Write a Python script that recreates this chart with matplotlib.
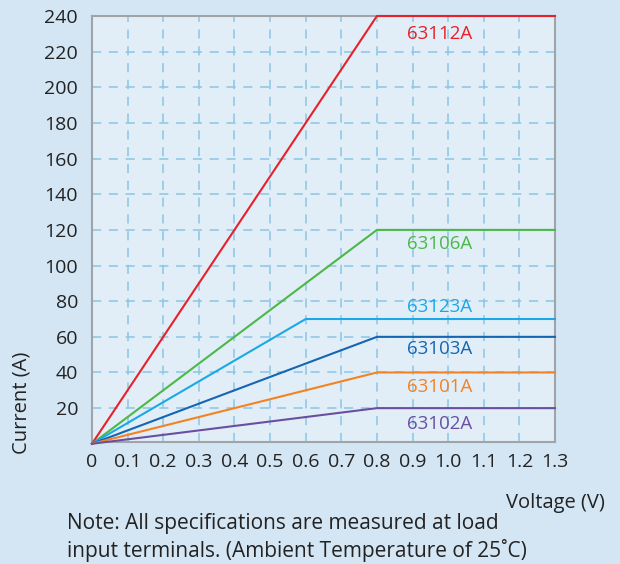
import matplotlib
matplotlib.use("Agg")
import matplotlib.pyplot as plt

models = ["63112A", "63106A", "63123A", "63103A", "63101A", "63102A"]
knee_v = [0.8, 0.8, 0.6, 0.8, 0.8, 0.8]
max_i = [240, 120, 70, 60, 40, 20]
colors = ["#e8202a", "#4cb848", "#1aa9e6", "#1565b0", "#f58220", "#6a4fa0"]
label_y = [230, 112, 77, 53, 32, 11]
x_ticks = [0, 0.1, 0.2, 0.3, 0.4, 0.5, 0.6, 0.7, 0.8, 0.9, 1.0, 1.1, 1.2, 1.3]
x_labels = ["0", "0.1", "0.2", "0.3", "0.4", "0.5", "0.6", "0.7", "0.8", "0.9", "1.0", "1.1", "1.2", "1.3"]
y_ticks = [20, 40, 60, 80, 100, 120, 140, 160, 180, 200, 220, 240]
v_max = 1.3

plt.rcParams['font.family'] = ['Open Sans', 'DejaVu Sans']

fig = plt.figure(figsize=(6.2, 5.64), dpi=100)
fig.patch.set_facecolor("#d4e6f4")
ax = fig.add_axes([92/620, 1-442/564, (555-92)/620, (442-16)/564])
ax.set_facecolor("#e1eef8")

for m, kv, mi, c, ly in zip(models, knee_v, max_i, colors, label_y):
    ax.plot([0, kv, v_max], [0, mi, mi], color=c, lw=1.5, zorder=3, clip_on=False)
    ax.text(0.977, ly, m, color=c, fontsize=13.5, ha="center", va="center", zorder=4)

ax.set_xlim(0, v_max)
ax.set_ylim(1, 240)
ax.set_xticks(x_ticks)
ax.set_xticklabels(x_labels)
ax.set_yticks(y_ticks)
ax.tick_params(length=0, labelsize=14, colors="#222222")
ax.tick_params(axis="y", pad=10)
ax.tick_params(axis="x", pad=8)
for t in ax.get_xticklabels():
    t.set_color("#222222")
for t in ax.get_yticklabels():
    t.set_color("#222222")

grid_kw = dict(color="#8cc6e4", lw=1.1, dashes=(6, 5), zorder=1)
for x in x_ticks[1:-1]:
    ax.axvline(x, **grid_kw)
for y in y_ticks[:-1]:
    ax.axhline(y, **grid_kw)

for s in ax.spines.values():
    s.set_color("#a0a4a8")
    s.set_linewidth(1.5)

fig.text(22/620, 1-403/564, "Current (A)", rotation=90, ha="center", va="center",
         fontsize=14.5, color="#222222")
fig.text(605/620, 1-503/564, "Voltage (V)", ha="right", va="center",
         fontsize=14.5, color="#222222")
fig.text(67/620, 1-524/564, "Note: All specifications are measured at load", ha="left",
         va="center", fontsize=15, color="#222222")
fig.text(67/620, 1-550/564, "input terminals. (Ambient Temperature of 25\u02daC)", ha="left",
         va="center", fontsize=15, color="#222222")

fig.savefig("out.png", dpi=100, facecolor=fig.get_facecolor())
